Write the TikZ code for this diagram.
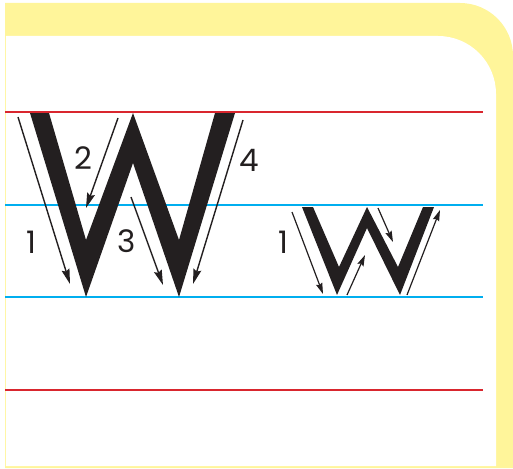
\documentclass[tikz,border=0pt]{standalone}
\usepackage{fontspec}
\setmainfont{Poppins}
\usetikzlibrary{arrows.meta}

\definecolor{padyellow}{HTML}{FFF59A}
\definecolor{rulered}{HTML}{D9262E}
\definecolor{ruleblue}{HTML}{00AEEF}
\definecolor{inkblack}{HTML}{231F20}

\tikzset{
  guidered/.style={rulered,line width=2pt},
  guideblue/.style={ruleblue,line width=2pt},
  bigarrow/.style={inkblack,line width=1.4pt,-{Stealth[length=15pt,width=8pt,inset=2pt]}},
  smallarrow/.style={inkblack,line width=1.2pt,-{Stealth[length=11pt,width=6.5pt,inset=1.5pt]}},
  numlabel/.style={inkblack,inner sep=0pt,font=\fontsize{31}{31}\selectfont}
}

\begin{document}
\begin{tikzpicture}[x=1pt,y=-1pt]
  \useasboundingbox (0,0) rectangle (513,468);
  % page frame
  \fill[padyellow] (5,468) -- (5,3) -- (460,3) arc[start angle=-90,end angle=0,radius=53] -- (513,468) -- cycle;
  \fill[white] (5.8,466) -- (5.8,36) -- (438,36) arc[start angle=-90,end angle=0,radius=58] -- (496,466) -- cycle;

  % writing lines
  \draw[guidered] (5,112) -- (483,112);
  \draw[guideblue] (5,205) -- (483,205);
  \draw[guideblue] (5,297) -- (483,297);
  \draw[guidered] (5,390) -- (483,390);

  % capital W
  \fill[inkblack] (30,113) -- (49,113) -- (86,240) -- (133,113) -- (179,240) -- (215,113)
    -- (235,113) -- (179,297) -- (133,163) -- (86,297) -- cycle;
  \draw[bigarrow] (18,117) -- (70,284);
  \draw[bigarrow] (118,118) -- (86,208);
  \draw[bigarrow] (131,197) -- (163,285);
  \draw[bigarrow] (243,120) -- (193,284);
  \node[numlabel] (capone) at (31,242) {1};
  \node[numlabel] (captwo) at (83,158) {2};
  \node[numlabel] (capthree) at (127,241) {3};
  \node[numlabel] (capfour) at (249,160) {4};

  % small w
  \fill[inkblack] (302,207) -- (313,207) -- (339,267) -- (367,207) -- (398,267) -- (423,207)
    -- (434,207) -- (400,295) -- (367,228) -- (337,295) -- cycle;
  \draw[smallarrow] (292,212) -- (323,294);
  \draw[smallarrow] (347,295) -- (365,255);
  \draw[smallarrow] (378,208) -- (393,242);
  \draw[smallarrow] (407,295) -- (440,210);
  \node[numlabel] (lowone) at (283,242) {1};
\end{tikzpicture}
\end{document}
